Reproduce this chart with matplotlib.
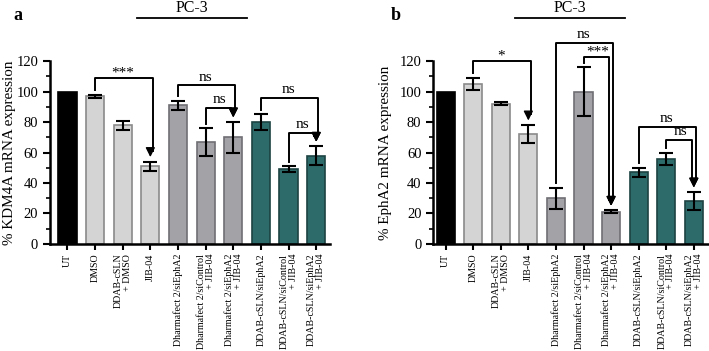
import numpy as np
import matplotlib.pyplot as plt

plt.rcParams['font.family'] = ['Liberation Serif', 'DejaVu Serif']

labels = ['UT', 'DMSO', 'DDAB-cSLN\n+ DMSO', 'JIB-04', 'Dharmafect 2/siEphA2',
          'Dharmafect 2/siControl\n+ JIB-04', 'Dharmafect 2/siEphA2\n+ JIB-04',
          'DDAB-cSLN/siEphA2', 'DDAB-cSLN/siControl\n+ JIB-04', 'DDAB-cSLN/siEphA2\n+ JIB-04']

kdm_mean = [100, 97, 78, 51, 91, 67, 70, 80, 49, 58]
kdm_err = [0, 1, 3, 3, 3, 9, 10, 5, 2, 6]

epha_mean = [100, 105, 92, 72, 30, 100, 21, 47, 56, 28]
epha_err = [0, 4, 1, 6, 7, 16, 1, 3, 4, 6]

# (from, to, bracket height, text)
kdm_sig = [(1, 3, 109, '***'), (4, 6, 104, 'ns'), (5, 6, 89, 'ns'),
           (7, 9, 96, 'ns'), (8, 9, 73, 'ns')]
epha_sig = [(1, 3, 120, '*'), (4, 6, 132, 'ns'), (5, 6, 123, '***'),
            (7, 9, 77, 'ns'), (8, 9, 68, 'ns')]

face = ['#000000'] + ['#d4d4d4'] * 3 + ['#a3a3a7'] * 3 + ['#2d6b6b'] * 3
edge = ['#000000'] + ['#8a8a8a'] * 3 + ['#707074'] * 3 + ['#1d4242'] * 3

fig = plt.figure(figsize=(7.09, 3.51), dpi=100)
ax_a = fig.add_axes([0.0705, 0.305, 0.395, 0.521])
ax_b = fig.add_axes([0.611, 0.305, 0.389, 0.521])


def panel(ax, mean, err, sig, ylabel, letter, xlim, ylab_x):
    x = np.arange(len(mean))
    ax.bar(x, mean, width=0.66, color=face, edgecolor=edge, linewidth=1.2, zorder=2)
    ax.errorbar(x[1:], mean[1:], yerr=err[1:], fmt='none', ecolor='black',
                elinewidth=1.5, capsize=5, capthick=1.5, zorder=3)
    ax.set_xlim(*xlim)
    ax.set_ylim(0, 120)
    ax.set_yticks(range(0, 121, 20))
    ax.set_yticks(range(0, 121, 10), minor=True)
    ax.set_xticks(x)
    ax.set_xticklabels(labels, rotation=90, fontsize=7.2, linespacing=1.0,
                       ha='center', va='top', multialignment='right')
    ax.tick_params(axis='y', labelsize=10.5, width=1.5, length=5)
    ax.tick_params(axis='y', which='minor', width=1.2, length=3)
    ax.tick_params(axis='x', width=1.5, length=4, pad=3)
    for s in ['top', 'right']:
        ax.spines[s].set_visible(False)
    for s in ['left', 'bottom']:
        ax.spines[s].set_linewidth(1.8)
    ax.set_ylabel(ylabel, fontsize=10.9)
    ax.yaxis.set_label_coords(ylab_x, 0.5)

    for i, j, h, txt in sig:
        y0 = mean[i] + err[i] + 3
        yt = mean[j] + err[j] + 3
        xj = j + (0.08 if i < j - 1 else -0.08)
        ax.plot([i, i, xj, xj], [y0, h, h, yt + 4], color='black', lw=1.4,
                clip_on=False, zorder=4)
        ax.annotate('', xy=(j, yt), xytext=(j, yt + 5),
                    arrowprops=dict(arrowstyle='-|>', color='black', lw=1.0,
                                    mutation_scale=14, shrinkA=0, shrinkB=0),
                    annotation_clip=False)
        if txt == 'ns':
            ax.text((i + j) / 2, h + 5.5, txt, ha='center', va='center', fontsize=11)
        else:
            ax.text((i + j) / 2, h + 3, txt, ha='center', va='center', fontsize=11)

    ax.plot([2.5, 6.5], [148, 148], color='black', lw=1.3, clip_on=False)
    ax.text(4.5, 152.5, 'PC-3', ha='center', va='baseline', fontsize=11.5)
    ax.text(letter[1], 150, letter[0], ha='left', va='center', fontsize=13,
            fontweight='bold')


panel(ax_a, kdm_mean, kdm_err, kdm_sig, '% KDM4A mRNA expression', ('a', -1.95),
      (-0.63, 9.5), -0.121)
panel(ax_b, epha_mean, epha_err, epha_sig, '% EphA2 mRNA expression', ('b', -2.0),
      (-0.45, 9.55), -0.15)

fig.savefig('out.png', dpi=100)
